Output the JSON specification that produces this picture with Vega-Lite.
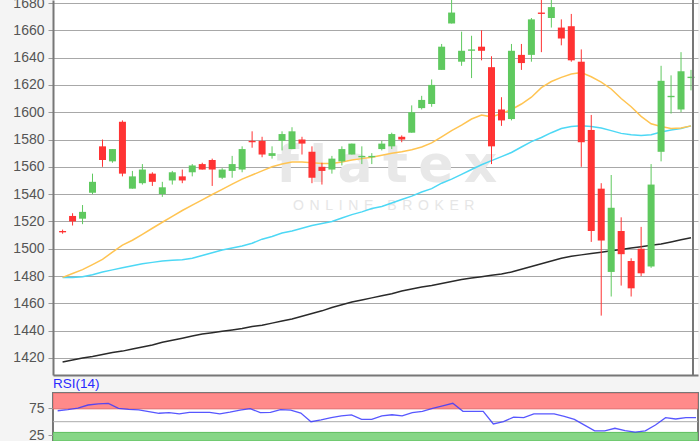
{
  "$schema": "https://vega.github.io/schema/vega-lite/v6.json",
  "padding": {"left": 12, "top": -4, "right": 0, "bottom": 0},
  "background": "#f4f4f4",
  "config": {
    "view": {"fill": "white", "stroke": "#777", "strokeWidth": 2},
    "font": "Liberation Sans",
    "axis": {
      "labelFont": "Liberation Sans",
      "labelFontSize": 14,
      "labelColor": "#555555",
      "labelOverlap": false,
      "tickColor": "#999999",
      "tickSize": 5,
      "domainColor": "#777777",
      "domainWidth": 2,
      "gridColor": "#a8a8a8",
      "gridWidth": 1,
      "labelPadding": 4,
      "format": "d"
    }
  },
  "datasets": {
    "candles": [
      {"i":0,"o":1513,"h":1514,"l":1511,"c":1512,"ma20":1479,"ma50":1479,"ma200":1417},
      {"i":1,"o":1524,"h":1526,"l":1517,"c":1520,"ma20":1481.8,"ma50":1479,"ma200":1418.5},
      {"i":2,"o":1522,"h":1532,"l":1518,"c":1527,"ma20":1484.7,"ma50":1479.5,"ma200":1420},
      {"i":3,"o":1541,"h":1555,"l":1540,"c":1549,"ma20":1488.4,"ma50":1481,"ma200":1421},
      {"i":4,"o":1575,"h":1580,"l":1560,"c":1565,"ma20":1492.2,"ma50":1483,"ma200":1422.5},
      {"i":5,"o":1564,"h":1573,"l":1563,"c":1573,"ma20":1497.5,"ma50":1484.5,"ma200":1424},
      {"i":6,"o":1593,"h":1594,"l":1553,"c":1555,"ma20":1502.6,"ma50":1486,"ma200":1425},
      {"i":7,"o":1544,"h":1557,"l":1544,"c":1553,"ma20":1506.2,"ma50":1487.5,"ma200":1426.5},
      {"i":8,"o":1548,"h":1562,"l":1547,"c":1558,"ma20":1510.5,"ma50":1489,"ma200":1428},
      {"i":9,"o":1555,"h":1556,"l":1546,"c":1549,"ma20":1515,"ma50":1490,"ma200":1429.5},
      {"i":10,"o":1540,"h":1549,"l":1538,"c":1545,"ma20":1519.4,"ma50":1491,"ma200":1431.5},
      {"i":11,"o":1550,"h":1557,"l":1547,"c":1556,"ma20":1523.7,"ma50":1491.5,"ma200":1433},
      {"i":12,"o":1553,"h":1558,"l":1548,"c":1550,"ma20":1528,"ma50":1492,"ma200":1434.5},
      {"i":13,"o":1556,"h":1562,"l":1553,"c":1561,"ma20":1532,"ma50":1493,"ma200":1436},
      {"i":14,"o":1562,"h":1563,"l":1558,"c":1558,"ma20":1535.8,"ma50":1495,"ma200":1437.5},
      {"i":15,"o":1565,"h":1566,"l":1546,"c":1558,"ma20":1539.7,"ma50":1497,"ma200":1438.5},
      {"i":16,"o":1552,"h":1559,"l":1551,"c":1558,"ma20":1543.5,"ma50":1499,"ma200":1439.5},
      {"i":17,"o":1557,"h":1568,"l":1552,"c":1562,"ma20":1547.3,"ma50":1500.5,"ma200":1440.5},
      {"i":18,"o":1558,"h":1575,"l":1556,"c":1573,"ma20":1551,"ma50":1502,"ma200":1441.5},
      {"i":19,"o":1579,"h":1586,"l":1574,"c":1578,"ma20":1554,"ma50":1504,"ma200":1443},
      {"i":20,"o":1579,"h":1582,"l":1567,"c":1569,"ma20":1557,"ma50":1507,"ma200":1444},
      {"i":21,"o":1568,"h":1575,"l":1566,"c":1570,"ma20":1560,"ma50":1509,"ma200":1445.5},
      {"i":22,"o":1579,"h":1586,"l":1572,"c":1584,"ma20":1562,"ma50":1511.5,"ma200":1447},
      {"i":23,"o":1573,"h":1589,"l":1573,"c":1586,"ma20":1563.5,"ma50":1513,"ma200":1448.5},
      {"i":24,"o":1580,"h":1582,"l":1569,"c":1577,"ma20":1563.5,"ma50":1515,"ma200":1450.5},
      {"i":25,"o":1571,"h":1575,"l":1548,"c":1552,"ma20":1563,"ma50":1517,"ma200":1452.5},
      {"i":26,"o":1560,"h":1563,"l":1547,"c":1557,"ma20":1562.5,"ma50":1518.5,"ma200":1454.5},
      {"i":27,"o":1558,"h":1568,"l":1555,"c":1566,"ma20":1562.5,"ma50":1520,"ma200":1457},
      {"i":28,"o":1564,"h":1575,"l":1561,"c":1573,"ma20":1563.5,"ma50":1522.5,"ma200":1459},
      {"i":29,"o":1569,"h":1577,"l":1569,"c":1577,"ma20":1565,"ma50":1525,"ma200":1461},
      {"i":30,"o":1567,"h":1575,"l":1562,"c":1568,"ma20":1566,"ma50":1527,"ma200":1462.5},
      {"i":31,"o":1567,"h":1570,"l":1562,"c":1568,"ma20":1567,"ma50":1529.5,"ma200":1464},
      {"i":32,"o":1573,"h":1579,"l":1572,"c":1577,"ma20":1568.5,"ma50":1531,"ma200":1465.5},
      {"i":33,"o":1575,"h":1585,"l":1573,"c":1584,"ma20":1570,"ma50":1533.5,"ma200":1467},
      {"i":34,"o":1582,"h":1583,"l":1578,"c":1580,"ma20":1571,"ma50":1536,"ma200":1469},
      {"i":35,"o":1585,"h":1605,"l":1585,"c":1600,"ma20":1572.5,"ma50":1538.5,"ma200":1470.5},
      {"i":36,"o":1603,"h":1612,"l":1602,"c":1609,"ma20":1574.5,"ma50":1541.5,"ma200":1472},
      {"i":37,"o":1606,"h":1624,"l":1604,"c":1620,"ma20":1577.5,"ma50":1544,"ma200":1473},
      {"i":38,"o":1631,"h":1650,"l":1631,"c":1648,"ma20":1582,"ma50":1548,"ma200":1474.5},
      {"i":39,"o":1665,"h":1684,"l":1665,"c":1673,"ma20":1586.5,"ma50":1551,"ma200":1476},
      {"i":40,"o":1637,"h":1659,"l":1634,"c":1645,"ma20":1590.5,"ma50":1554.5,"ma200":1477.5},
      {"i":41,"o":1645,"h":1656,"l":1625,"c":1646,"ma20":1595,"ma50":1558,"ma200":1478.5},
      {"i":42,"o":1648,"h":1660,"l":1638,"c":1645,"ma20":1598,"ma50":1561.5,"ma200":1479.5},
      {"i":43,"o":1633,"h":1641,"l":1562,"c":1575,"ma20":1596.6,"ma50":1564.5,"ma200":1480.5},
      {"i":44,"o":1602,"h":1611,"l":1590,"c":1594,"ma20":1599,"ma50":1567.5,"ma200":1481.5},
      {"i":45,"o":1595,"h":1650,"l":1594,"c":1645,"ma20":1602,"ma50":1570.5,"ma200":1483},
      {"i":46,"o":1642,"h":1650,"l":1631,"c":1636,"ma20":1606,"ma50":1574.5,"ma200":1485},
      {"i":47,"o":1642,"h":1669,"l":1637,"c":1668,"ma20":1611,"ma50":1578.5,"ma200":1487},
      {"i":48,"o":1673,"h":1684,"l":1644,"c":1672,"ma20":1618,"ma50":1581.5,"ma200":1489},
      {"i":49,"o":1669,"h":1684,"l":1662,"c":1677,"ma20":1622.5,"ma50":1585,"ma200":1491},
      {"i":50,"o":1662,"h":1668,"l":1649,"c":1654,"ma20":1625.5,"ma50":1588,"ma200":1493},
      {"i":51,"o":1663,"h":1672,"l":1637,"c":1638,"ma20":1628,"ma50":1589.5,"ma200":1494.5},
      {"i":52,"o":1637,"h":1646,"l":1560,"c":1578,"ma20":1629,"ma50":1590,"ma200":1495.5},
      {"i":53,"o":1587,"h":1598,"l":1505,"c":1513,"ma20":1626,"ma50":1589.5,"ma200":1496.5},
      {"i":54,"o":1544,"h":1548,"l":1451,"c":1506,"ma20":1622,"ma50":1588.5,"ma200":1497.5},
      {"i":55,"o":1483,"h":1554,"l":1465,"c":1530,"ma20":1617,"ma50":1586.5,"ma200":1498.5},
      {"i":56,"o":1513,"h":1523,"l":1473,"c":1496,"ma20":1610,"ma50":1584.5,"ma200":1499.5},
      {"i":57,"o":1491,"h":1493,"l":1465,"c":1471,"ma20":1604,"ma50":1583.5,"ma200":1500.5},
      {"i":58,"o":1500,"h":1516,"l":1480,"c":1482,"ma20":1597,"ma50":1583,"ma200":1501.5},
      {"i":59,"o":1487,"h":1562,"l":1486,"c":1547,"ma20":1591.5,"ma50":1583.5,"ma200":1502.5},
      {"i":60,"o":1571,"h":1634,"l":1564,"c":1623,"ma20":1589.5,"ma50":1585.5,"ma200":1503.5},
      {"i":61,"o":1611,"h":1627,"l":1599,"c":1612,"ma20":1588,"ma50":1587,"ma200":1505},
      {"i":62,"o":1602,"h":1644,"l":1600,"c":1630,"ma20":1588.5,"ma50":1588,"ma200":1506.5},
      {"i":63,"o":1625,"h":1631,"l":1616,"c":1626,"ma20":1590,"ma50":1590,"ma200":1508}
    ],
    "rsi": [
      {"i":0,"rsi":70.4},{"i":1,"rsi":72.5},{"i":2,"rsi":75.2},{"i":3,"rsi":81.1},{"i":4,"rsi":83.3},
      {"i":5,"rsi":84.3},{"i":6,"rsi":74.7},{"i":7,"rsi":73.1},{"i":8,"rsi":72},{"i":9,"rsi":68.8},
      {"i":10,"rsi":65.7},{"i":11,"rsi":66.8},{"i":12,"rsi":64.5},{"i":13,"rsi":67.2},{"i":14,"rsi":67.5},
      {"i":15,"rsi":67.2},{"i":16,"rsi":64.5},{"i":17,"rsi":67.7},{"i":18,"rsi":71.5},{"i":19,"rsi":74.4},
      {"i":20,"rsi":66.8},{"i":21,"rsi":67.2},{"i":22,"rsi":72.4},{"i":23,"rsi":71.5},{"i":24,"rsi":66.1},
      {"i":25,"rsi":50},{"i":26,"rsi":53.2},{"i":27,"rsi":57.5},{"i":28,"rsi":60.7},{"i":29,"rsi":62.6},
      {"i":30,"rsi":54.3},{"i":31,"rsi":54.3},{"i":32,"rsi":60.7},{"i":33,"rsi":62.9},{"i":34,"rsi":60.7},
      {"i":35,"rsi":66.8},{"i":36,"rsi":69.3},{"i":37,"rsi":74.7},{"i":38,"rsi":79.3},{"i":39,"rsi":84.3},
      {"i":40,"rsi":69.3},{"i":41,"rsi":69.3},{"i":42,"rsi":69.3},{"i":43,"rsi":45.7},{"i":44,"rsi":50},
      {"i":45,"rsi":58.6},{"i":46,"rsi":57.5},{"i":47,"rsi":64.4},{"i":48,"rsi":64.4},{"i":49,"rsi":64.4},
      {"i":50,"rsi":59.7},{"i":51,"rsi":54.3},{"i":52,"rsi":43.6},{"i":53,"rsi":32.8},{"i":54,"rsi":32.8},
      {"i":55,"rsi":37.7},{"i":56,"rsi":33.4},{"i":57,"rsi":30.7},{"i":58,"rsi":32.8},{"i":59,"rsi":43.9},
      {"i":60,"rsi":57.5},{"i":61,"rsi":55},{"i":62,"rsi":57.5},{"i":63,"rsi":57.5}
    ],
    "bands": [
      {"zone": "overbought", "lo": 74, "hi": 103.5},
      {"zone": "oversold", "lo": 14, "hi": 30}
    ],
    "mid": [{"level": 50}],
    "logo": [{"t": "f\u2009l\u2009a\u2009t\u2009e\u2009x"}],
    "tagline": [{"t": "O\u2009\u2009N\u2009\u2009L\u2009\u2009I\u2009\u2009N\u2009\u2009E\u2009\u2009\u2009\u2009\u2009B\u2009\u2009R\u2009\u2009O\u2009\u2009K\u2009\u2009E\u2009\u2009R"}]
  },
  "spacing": 18,
  "bounds": "flush",
  "vconcat": [
    {
      "width": 645,
      "height": 375,
      "view": {"stroke": null, "fill": "white"},
      "layer": [
        {
          "data": {"name": "candles"},
          "mark": {"type": "line", "color": "#2a2a2a", "strokeWidth": 1.5, "clip": true},
          "encoding": {
            "x": {"field": "i", "type": "quantitative", "scale": {"domain": [-0.46, 63.2], "nice": false, "zero": false}, "axis": {"labels": false, "ticks": false, "grid": false, "domain": true, "title": null}},
            "y": {"field": "ma200", "type": "quantitative", "scale": {"domain": [1407.5, 1682.2], "nice": false, "zero": false},
                  "axis": {"values": [1420,1440,1460,1480,1500,1520,1540,1560,1580,1600,1620,1640,1660,1680], "tickCount": 14, "grid": true, "domain": true, "title": null}}
          }
        },
        {
          "data": {"name": "logo"},
          "mark": {"type": "text", "font": "DejaVu Sans", "fontWeight": "bold", "fontSize": 52, "color": "#e8e8e8", "baseline": "alphabetic", "align": "center"},
          "encoding": {
            "x": {"datum": 32.5, "type": "quantitative"},
            "y": {"datum": 1548.6, "type": "quantitative"},
            "text": {"field": "t"}
          }
        },
        {
          "data": {"name": "tagline"},
          "mark": {"type": "text", "font": "Liberation Sans", "fontSize": 14, "color": "#e6e6e6", "baseline": "middle", "align": "center"},
          "encoding": {
            "x": {"datum": 32.2, "type": "quantitative"},
            "y": {"datum": 1531, "type": "quantitative"},
            "text": {"field": "t"}
          }
        },
        {
          "data": {"name": "candles"},
          "mark": {"type": "line", "color": "#4dd8f5", "strokeWidth": 1.5, "clip": true},
          "encoding": {
            "x": {"field": "i", "type": "quantitative"},
            "y": {"field": "ma50", "type": "quantitative"}
          }
        },
        {
          "data": {"name": "candles"},
          "mark": {"type": "line", "color": "#ffc452", "strokeWidth": 1.5, "clip": true},
          "encoding": {
            "x": {"field": "i", "type": "quantitative"},
            "y": {"field": "ma20", "type": "quantitative"}
          }
        },
        {
          "data": {"name": "candles"},
          "mark": {"type": "rule", "strokeWidth": 1, "clip": true},
          "encoding": {
            "x": {"field": "i", "type": "quantitative"},
            "y": {"field": "l", "type": "quantitative"},
            "y2": {"field": "h"},
            "color": {"condition": {"test": "datum.c >= datum.o", "value": "#5fc95f"}, "value": "#ff3333"}
          }
        },
        {
          "data": {"name": "candles"},
          "mark": {"type": "bar", "width": 7, "clip": true},
          "encoding": {
            "x": {"field": "i", "type": "quantitative"},
            "y": {"field": "o", "type": "quantitative"},
            "y2": {"field": "c"},
            "color": {"condition": {"test": "datum.c >= datum.o", "value": "#5fc95f"}, "value": "#ff3333"}
          }
        },
        {
          "data": {"name": "mid"},
          "mark": {"type": "rule", "color": "#777777", "strokeWidth": 2},
          "encoding": {"x": {"datum": 63.2, "type": "quantitative"}}
        }
      ]
    },
    {
      "width": 645,
      "height": 48,
      "title": {"text": "RSI(14)", "anchor": "start", "frame": "group", "offset": 3, "fontSize": 13.5, "fontWeight": "normal", "font": "Liberation Sans", "color": "#2a2aff"},
      "layer": [
        {
          "data": {"name": "bands"},
          "mark": {"type": "rect", "strokeWidth": 1, "clip": true},
          "encoding": {
            "x": {"datum": -0.46, "type": "quantitative", "scale": {"domain": [-0.46, 63.2], "nice": false, "zero": false}, "axis": null},
            "x2": {"datum": 63.2},
            "y": {"field": "lo", "type": "quantitative", "title": null,
                  "scale": {"domain": [14, 103.5], "nice": false, "zero": false},
                  "axis": {"values": [25, 75], "grid": false, "domain": false, "title": null}},
            "y2": {"field": "hi"},
            "fill": {"field": "zone", "type": "nominal", "legend": null,
                     "scale": {"domain": ["overbought", "oversold"], "range": ["#ff8a8a", "#86d686"]}},
            "stroke": {"field": "zone", "type": "nominal", "legend": null,
                       "scale": {"domain": ["overbought", "oversold"], "range": ["#e06a6a", "#5cbf5c"]}}
          }
        },
        {
          "data": {"name": "mid"},
          "mark": {"type": "rule", "color": "#aaaaaa", "strokeWidth": 1},
          "encoding": {"y": {"field": "level", "type": "quantitative"}}
        },
        {
          "data": {"name": "rsi"},
          "mark": {"type": "line", "color": "#3a3aff", "strokeWidth": 1.3, "opacity": 0.85, "clip": true},
          "encoding": {
            "x": {"field": "i", "type": "quantitative"},
            "y": {"field": "rsi", "type": "quantitative"}
          }
        }
      ]
    }
  ]
}
